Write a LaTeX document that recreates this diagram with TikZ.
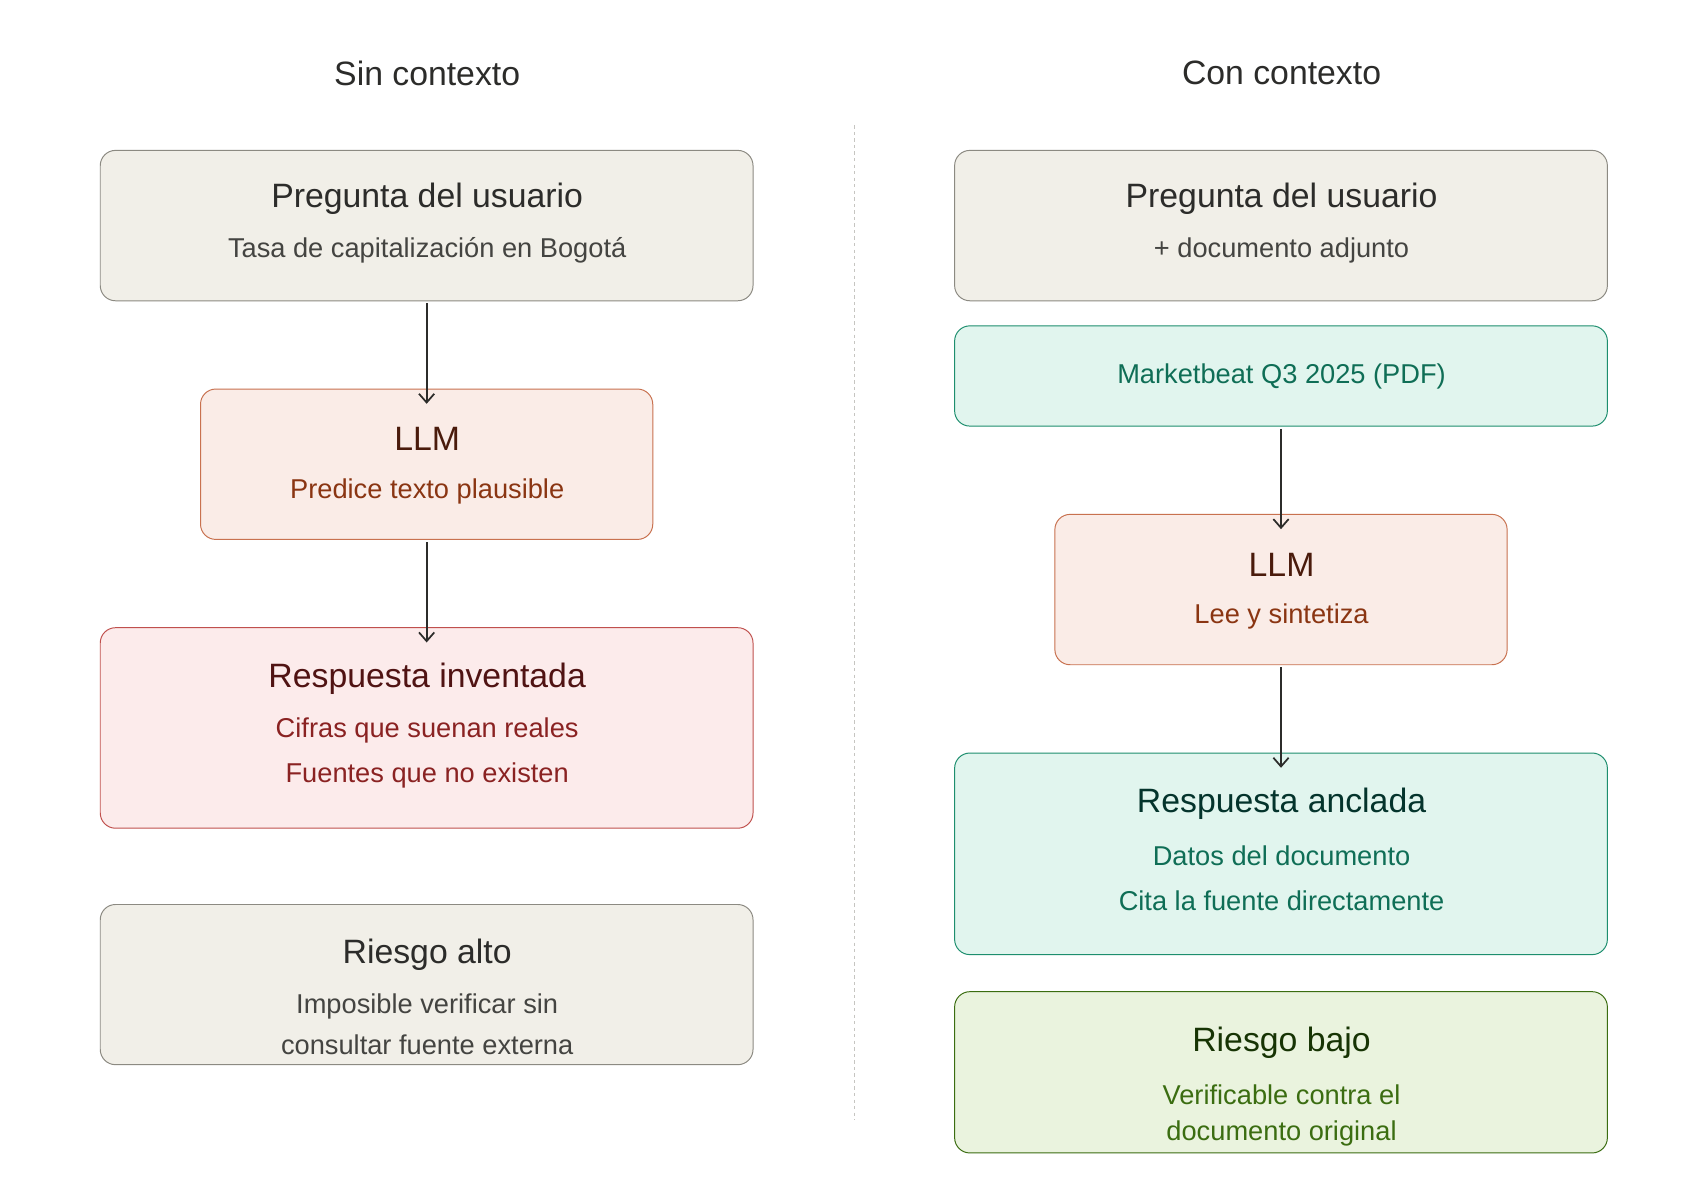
\documentclass[tikz,border=0pt]{standalone}
\usepackage{fontspec}
\setmainfont{Liberation Sans}
\usetikzlibrary{arrows.meta}
\definecolor{gfill}{HTML}{F1EFE8}\definecolor{gdraw}{HTML}{8C8A82}\definecolor{gtext}{HTML}{2C2C2A}\definecolor{gsub}{HTML}{444441}
\definecolor{ofill}{HTML}{FAECE7}\definecolor{odraw}{HTML}{C8714F}\definecolor{otext}{HTML}{4A1B0C}\definecolor{osub}{HTML}{8A3512}
\definecolor{rfill}{HTML}{FCEBEB}\definecolor{rdraw}{HTML}{C0504D}\definecolor{rtext}{HTML}{501313}\definecolor{rsub}{HTML}{8A2222}
\definecolor{tfill}{HTML}{E1F5EE}\definecolor{tdraw}{HTML}{1D8E6E}\definecolor{ttext}{HTML}{04342C}\definecolor{tsub}{HTML}{0F6E56}
\definecolor{lfill}{HTML}{EAF3DE}\definecolor{ldraw}{HTML}{3B6D11}\definecolor{ltext}{HTML}{173404}\definecolor{lsub}{HTML}{3B6D11}
\tikzset{x=1pt,y=-1pt,
 box/.style={draw,rounded corners=14pt,line width=0.9pt,inner sep=0pt},
 gray/.style={box,fill=gfill,draw=gdraw},
 orange/.style={box,fill=ofill,draw=odraw},
 red/.style={box,fill=rfill,draw=rdraw},
 teal/.style={box,fill=tfill,draw=tdraw},
 lime/.style={box,fill=lfill,draw=ldraw},
 head/.style={font=\fontsize{31}{36}\selectfont},
 sub/.style={font=\fontsize{25}{30}\selectfont},
 title/.style={font=\fontsize{31}{36}\selectfont,text=gtext},
 arr/.style={-{Straight Barb[length=8pt,width=14pt]},line width=1.6pt,draw=gtext}}
\newcommand{\bx}[6]{\node[#1,minimum width=#4-#2,minimum height=#5-#3] (#6) at ({(#2+#4)/2},{(#3+#5)/2}) {};}
\begin{document}
\begin{tikzpicture}
\useasboundingbox (0,0) rectangle (1560,1100);
\fill[white] (0,0) rectangle (1560,1100);
\node[title] (t1) at (392,67) {Sin contexto};
\node[title] (t2) at (1176,67) {Con contexto};
\coordinate (d1) at (784,115); \coordinate (d2) at (784,1028);
\draw[gdraw!50,dashed,line width=0.8pt] (d1) -- (d2);
% left
\bx{gray}{92}{138}{691}{276}{a1}
\node[head,text=gtext] at (392,182) {Pregunta del usuario};
\node[sub,text=gsub] at (392,230) {Tasa de capitalización en Bogotá};
\bx{orange}{184}{357}{599}{495}{a2}
\node[head,text=otext] at (392,403) {LLM};
\node[sub,text=osub] at (392,451) {Predice texto plausible};
\bx{red}{92}{576}{691}{760}{a3}
\node[head,text=rtext] at (392,623) {Respuesta inventada};
\node[sub,text=rsub] at (392,670) {Cifras que suenan reales};
\node[sub,text=rsub] at (392,712) {Fuentes que no existen};
\bx{gray}{92}{830}{691}{977}{a4}
\node[head,text=gtext] at (392,876) {Riesgo alto};
\node[sub,text=gsub] at (392,924) {Imposible verificar sin};
\node[sub,text=gsub] at (392,959) {consultar fuente externa};
\draw[arr] (a1.south) ++(0,2) -- ([yshift=-14pt]a2.north);
\draw[arr] (a2.south) ++(0,2) -- ([yshift=-14pt]a3.north);
% right
\bx{gray}{876}{138}{1475}{276}{b1}
\node[head,text=gtext] at (1176,182) {Pregunta del usuario};
\node[sub,text=gsub] at (1176,230) {+ documento adjunto};
\bx{teal}{876}{299}{1475}{391}{b2}
\node[sub,text=tsub] at (1176,345) {Marketbeat Q3 2025 (PDF)};
\bx{orange}{968}{472}{1383}{610}{b3}
\node[head,text=otext] at (1176,518) {LLM};
\node[sub,text=osub] at (1176,566) {Lee y sintetiza};
\bx{teal}{876}{691}{1475}{876}{b4}
\node[head,text=ttext] at (1176,738) {Respuesta anclada};
\node[sub,text=tsub] at (1176,785) {Datos del documento};
\node[sub,text=tsub] at (1176,827) {Cita la fuente directamente};
\bx{lime}{876}{910}{1475}{1058}{b5}
\node[head,text=ltext] at (1176,957) {Riesgo bajo};
\node[sub,text=lsub] at (1176,1005) {Verificable contra el};
\node[sub,text=lsub] at (1176,1040) {documento original};
\draw[arr] (b2.south) ++(0,2) -- ([yshift=-14pt]b3.north);
\draw[arr] (b3.south) ++(0,2) -- ([yshift=-14pt]b4.north);
\end{tikzpicture}
\end{document}
